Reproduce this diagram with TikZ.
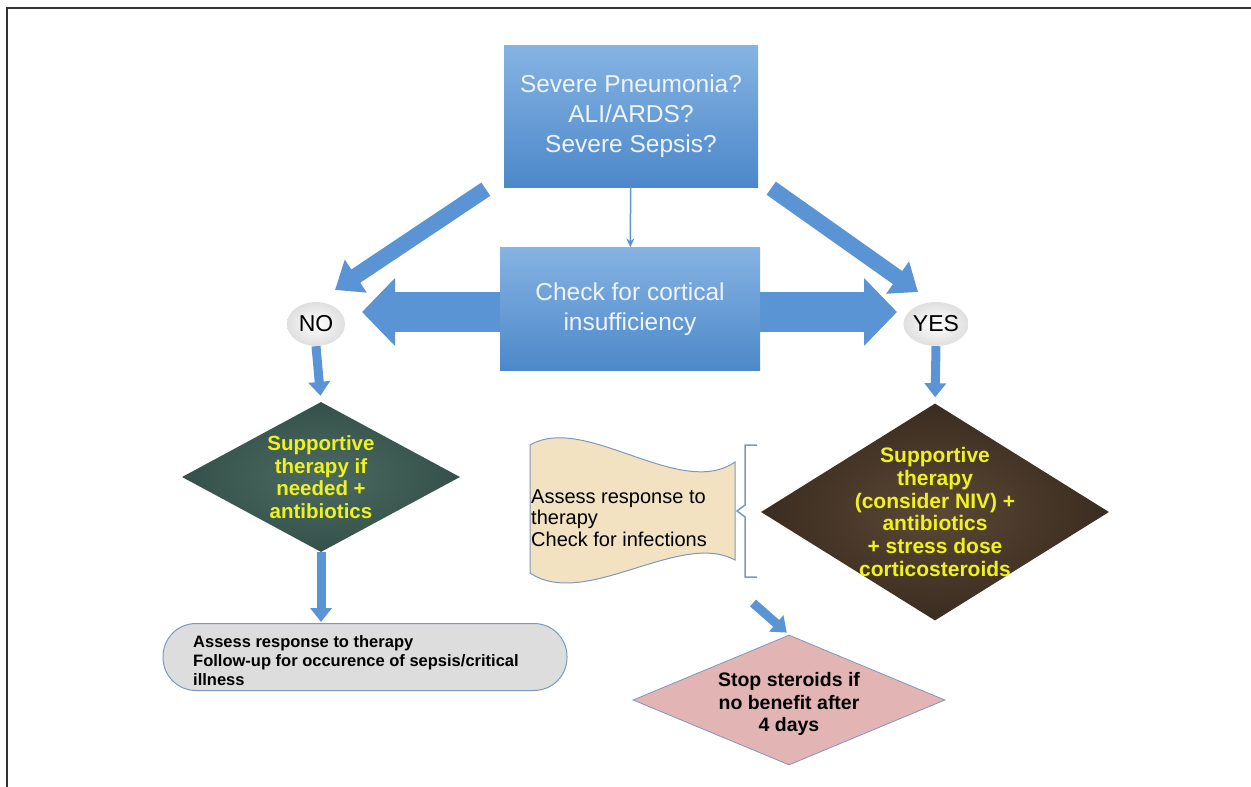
\documentclass[tikz,border=0pt]{standalone}
\usepackage{fontspec}
\setmainfont{Liberation Sans}
\usetikzlibrary{positioning,shapes.geometric,arrows.meta,calc,backgrounds}
\definecolor{boxtop}{HTML}{86B3E3}
\definecolor{boxbot}{HTML}{4C88C9}
\definecolor{arrowblue}{HTML}{5A94D4}
\definecolor{boxtext}{HTML}{EEF4FB}
\definecolor{greenin}{HTML}{4C6B61}
\definecolor{greenout}{HTML}{34504A}
\definecolor{brownin}{HTML}{5C4835}
\definecolor{brownout}{HTML}{3A2C20}
\definecolor{pinkmarble}{HTML}{E2B4B3}
\definecolor{greymarble}{HTML}{DDDDDD}
\definecolor{tapefill}{HTML}{F2E2C2}
\definecolor{edgeblue}{HTML}{7E98BD}
\definecolor{signyellow}{HTML}{EEF21E}
\tikzset{
  qbox/.style    = {rectangle, top color=boxtop, bottom color=boxbot, draw=none,
                    align=center, text=boxtext, inner sep=0pt},
  answer/.style  = {ellipse, inner color=white, outer color=gray!25, inner sep=0pt,
                    minimum width=58pt, minimum height=44pt,
                    font=\fontsize{23pt}{25pt}\selectfont},
  marble/.style  = {diamond, draw=none, inner sep=0pt},
  ylabel/.style  = {align=center, text=signyellow, inner sep=0pt,
                    font=\bfseries\fontsize{20.5pt}{22.5pt}\selectfont},
  blabel/.style  = {align=center, inner sep=0pt,
                    font=\bfseries\fontsize{19.5pt}{22.5pt}\selectfont},
  fat/.style     = {arrowblue, line width=16pt, -{Triangle[width=38pt,length=25pt]}},
  slim/.style    = {arrowblue, line width=9pt, -{Triangle[width=21pt,length=14pt]}},
  dbl/.style     = {arrowblue, line width=40pt, -{Triangle[width=66pt,length=33pt]}},
}
\begin{document}
\begin{tikzpicture}[x=1pt, y=-1pt]
  \useasboundingbox (0,0) rectangle (1251,787);
  \draw[line width=2pt, black!80] (7,787) -- (7,8) -- (1251,8);

  % question and check boxes
  \node[qbox, minimum width=254pt, minimum height=142pt,
        font=\fontsize{24.5pt}{30pt}\selectfont] (quest) at (631,116)
       {Severe Pneumonia?\\ALI/ARDS?\\Severe Sepsis?};
  \node[qbox, minimum width=260pt, minimum height=123pt,
        font=\fontsize{24.5pt}{30pt}\selectfont] (chk) at (630,309)
       {Check for cortical\\insufficiency};
  \draw[arrowblue, line width=1.5pt, -{Stealth[length=9pt,width=8pt]}] (quest) -- (chk);

  \node[answer] (no) at (316,324) {NO};
  \node[answer, minimum width=62pt] (yes) at (936,324) {YES};

  \coordinate (lt) at (362,312);
  \coordinate (rt) at (897,312);
  \coordinate (nohead) at (335,290);
  \coordinate (yeshead) at (918,292);
  \begin{scope}[on background layer]
    \draw[dbl] (chk.center |- lt) -- (lt);
    \draw[dbl] (chk.center |- rt) -- (rt);
  \end{scope}
  \draw[fat] ($(quest.south west)+(-18,2)$) -- (nohead);
  \draw[fat] ($(quest.south east)+(13,1)$) -- (yeshead);

  % NO branch
  \node[marble, inner color=greenin, outer color=greenout,
        minimum width=278pt, minimum height=150pt] (nodo) at (321,477) {};
  \node[ylabel] (nodotxt) at (nodo) {Supportive\\therapy if\\needed +\\antibiotics};
  \draw[slim, shorten >=6pt] (no.south) -- (nodo.north);

  \node[rectangle, rounded corners=33pt, fill=greymarble, draw=edgeblue, line width=1pt,
        minimum width=404pt, minimum height=67pt] (followup) at (365,657) {};
  \node[anchor=west, align=left, inner sep=0pt,
        font=\bfseries\fontsize{16.5pt}{19pt}\selectfont] (followtxt) at (193,661)
       {Assess response to therapy\\Follow-up for occurence of sepsis/critical\\illness};
  \draw[slim, shorten >=1pt] (nodo.south) -- (nodo.south |- followup.north);

  % YES branch
  \node[marble, inner color=brownin, outer color=brownout,
        minimum width=348pt, minimum height=217pt] (yesdo) at (935,512) {};
  \node[ylabel, font=\bfseries\fontsize{21pt}{22.8pt}\selectfont] (yesdotxt) at (yesdo)
       {Supportive\\therapy\\(consider NIV) +\\antibiotics\\+ stress dose\\corticosteroids};
  \draw[slim, shorten >=6pt] (yes.south) -- (yesdo.north);

  \draw[draw=edgeblue, fill=tapefill, line width=1pt]
       (530,445) .. controls (585,413) and (680,500) .. (735,462) -- (735,560)
       .. controls (680,530) and (585,610) .. (530,573) -- cycle;
  \node[anchor=west, align=left, inner sep=0pt,
        font=\fontsize{20pt}{21.5pt}\selectfont] (assess) at (531,518)
       {Assess response to\\therapy\\Check for infections};
  \draw[edgeblue, line width=1.5pt] (757,445) -- (745,445) -- (745,505) -- (737,511)
       -- (745,517) -- (745,577) -- (757,577);

  \node[marble, fill=pinkmarble, draw=edgeblue, line width=0.8pt,
        minimum width=312pt, minimum height=130pt] (stop) at (789,700) {};
  \node[blabel] (stoptxt) at ($(stop)+(0,4)$) {Stop steroids if\\no benefit after\\4 days};
  \coordinate (tapeend) at (753,603);
  \draw[slim, shorten >=3pt] (tapeend) -- (stop.north);
\end{tikzpicture}
\end{document}
